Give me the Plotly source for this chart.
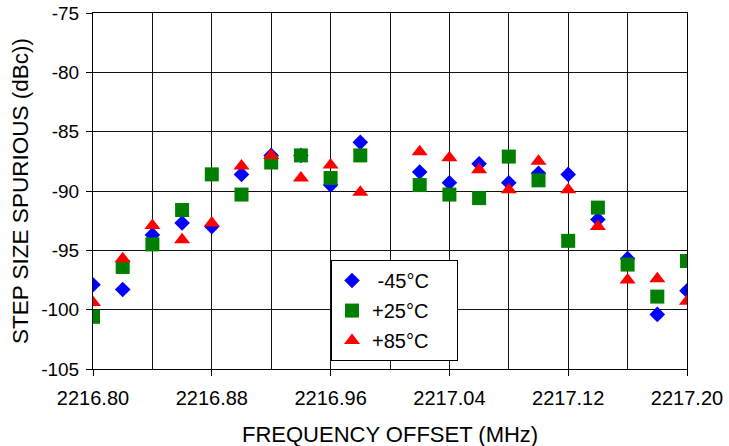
import plotly.graph_objects as go

freq = [2216.80, 2216.82, 2216.84, 2216.86, 2216.88, 2216.90, 2216.92, 2216.94, 2216.96, 2216.98,
        2217.02, 2217.04, 2217.06, 2217.08, 2217.10, 2217.12, 2217.14, 2217.16, 2217.18, 2217.20]

m45 = [-97.9, -98.3, -93.7, -92.7, -93.0, -88.6, -87.0, -87.0, -89.5, -85.9,
       -88.4, -89.3, -87.7, -89.3, -88.5, -88.6, -92.4, -95.7, -100.4, -98.4]
p25 = [-100.6, -96.4, -94.5, -91.6, -88.6, -90.3, -87.6, -87.0, -88.9, -87.0,
       -89.5, -90.3, -90.6, -87.1, -89.1, -94.2, -91.4, -96.2, -98.9, -95.9]
p85 = [-99.4, -95.7, -92.9, -94.1, -92.7, -87.9, -87.0, -88.9, -87.8, -90.1,
       -86.7, -87.2, -88.2, -89.9, -87.5, -89.9, -93.0, -97.5, -97.4, -99.3]

y_ticks = [-105, -100, -95, -90, -85, -80, -75]
y_labels = ["-105", "-100", "-95", "-90", "-85", "-80", "-75"]

series = [
    (" -45°C", m45, "diamond", "#0000ff", 12),
    ("+25°C", p25, "square", "#007f00", 14),
    ("+85°C", p85, "triangle-up", "#ff0000", 14),
]

fig = go.Figure()
for i, (name, vals, sym, col, sz) in enumerate(series):
    fig.add_trace(go.Scatter(x=freq, y=vals, mode="markers", name=name + "\u00a0" * 4,
                             legendgroup="g%d" % i,
                             marker=dict(symbol=sym, color=col, size=sz, line=dict(width=0))))

font = "Liberation Sans, Arial, sans-serif"
fig.update_layout(
    width=729, height=446,
    margin=dict(l=93, r=42, t=13, b=77),
    paper_bgcolor="white", plot_bgcolor="white",
    font=dict(family=font, size=18, color="black"),
    showlegend=True,
    legend=dict(x=0.4007, y=0.306, xanchor="left", yanchor="top",
                bgcolor="white", bordercolor="black", borderwidth=1,
                font=dict(size=20), traceorder="grouped", tracegroupgap=1),
    xaxis=dict(range=[2216.80, 2217.20], tick0=2216.80, dtick=0.08, tickformat=".2f",
               showgrid=True, gridcolor="#111", gridwidth=1,
               minor=dict(tick0=2216.80, dtick=0.04, showgrid=True, gridcolor="#111", gridwidth=1, ticks=""),
               showline=True, linecolor="black", linewidth=1, mirror=True,
               ticks="outside", ticklen=6, tickcolor="black", zeroline=False,
               automargin=False, ticklabelstandoff=5,
               tickfont=dict(size=20)),
    yaxis=dict(range=[-105, -75], tickvals=y_ticks, ticktext=y_labels,
               showgrid=True, gridcolor="#111", gridwidth=1,
               showline=True, linecolor="black", linewidth=1, mirror=True,
               ticks="outside", ticklen=6, tickcolor="black", zeroline=False,
               automargin=False, ticklabelstandoff=3,
               tickfont=dict(size=19)),
    annotations=[
        dict(text="FREQUENCY OFFSET (MHz)", xref="paper", yref="paper", x=0.5, y=-0.185,
             xanchor="center", yanchor="middle", showarrow=False, font=dict(size=22)),
        dict(text="STEP SIZE SPURIOUS (dBc))", xref="paper", yref="paper", x=-0.1229, y=0.5,
             xanchor="center", yanchor="middle", textangle=-90, showarrow=False, font=dict(size=22.5)),
    ],
)

fig.write_html("out.html")
